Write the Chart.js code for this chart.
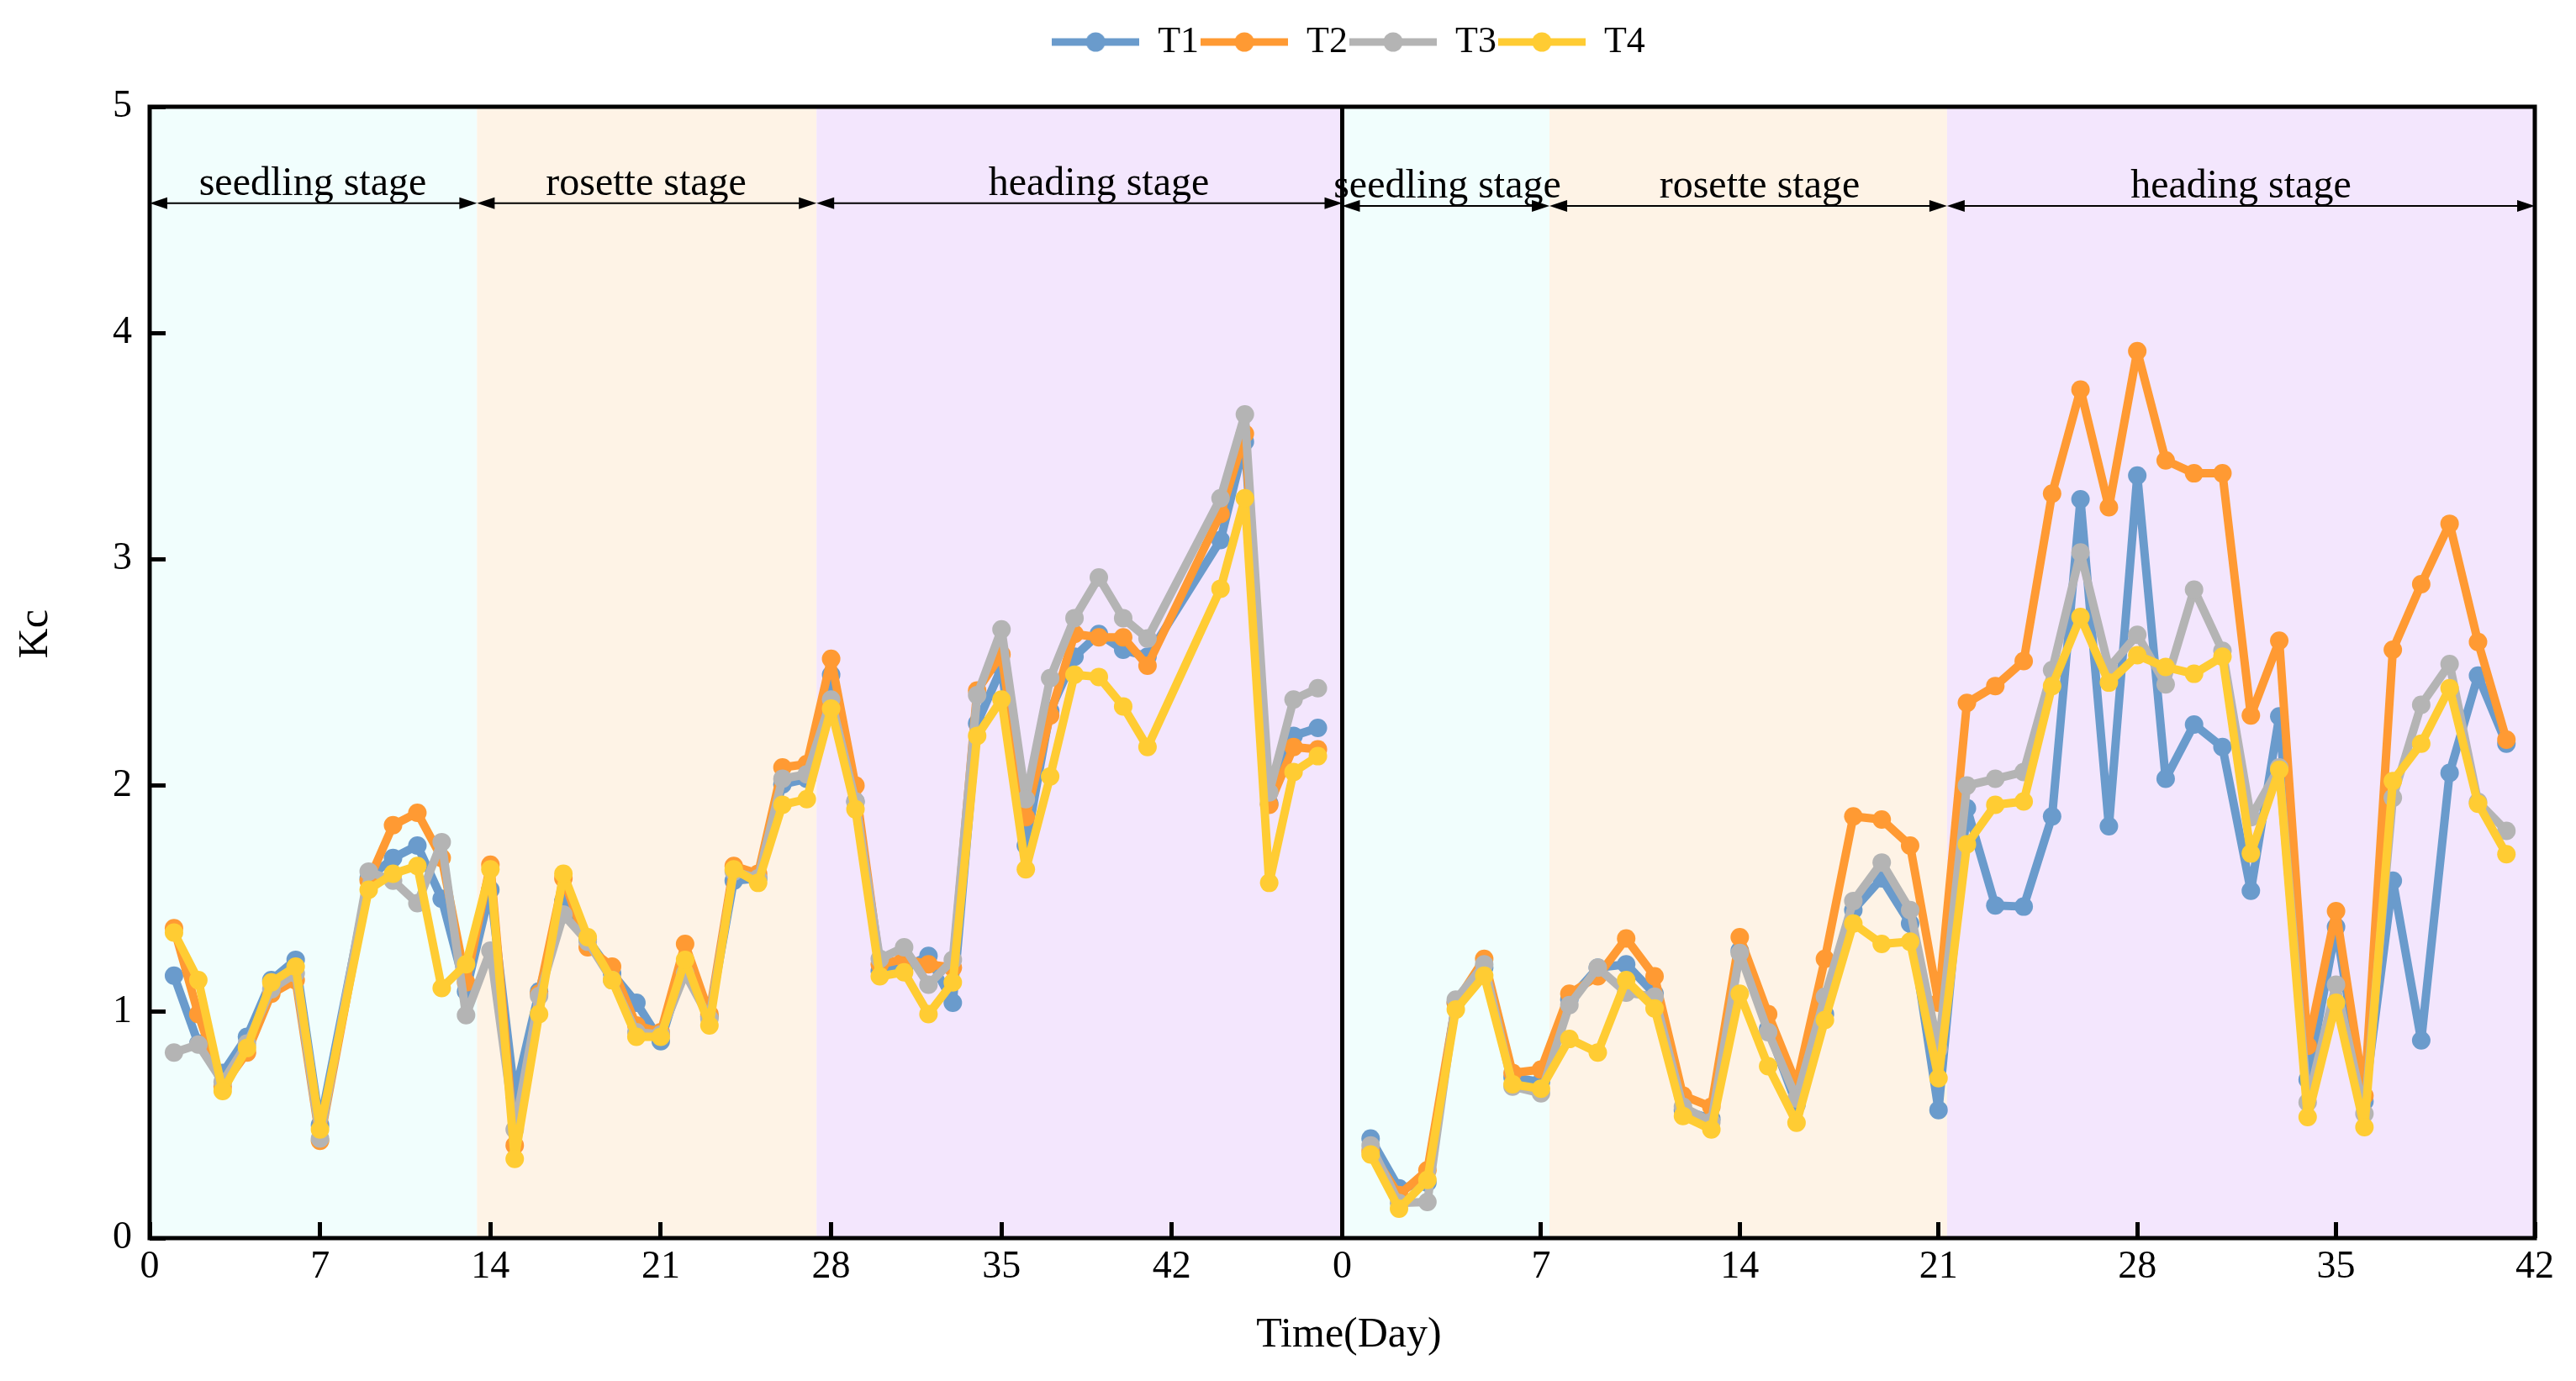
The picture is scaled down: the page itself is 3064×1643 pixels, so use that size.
<!DOCTYPE html>
<html><head><meta charset="utf-8">
<script src="https://cdn.jsdelivr.net/npm/chart.js@4.4.1/dist/chart.umd.min.js"></script>
<style>html,body{margin:0;padding:0;background:#fff;}canvas{display:block;}</style>
</head><body>
<canvas id="c" width="3064" height="1643" style="width:3064px;height:1643px"></canvas>
<script>
// ---------------- DATA ----------------
const seriesNames = ['T1', 'T2', 'T3', 'T4'];

const leftDays = [1,2,3,4,5,6,7,9,10,11,12,13,14,15,16,17,18,19,20,21,22,23,24,25,26,27,28,29,30,31,32,33,34,35,36,37,38,39,40,41,44,45,46,47,48];
const leftT1 = [1.16,0.86,0.73,0.89,1.14,1.23,0.50,1.59,1.68,1.735,1.50,1.09,1.54,0.63,1.09,1.49,1.32,1.17,1.04,0.87,1.22,0.98,1.58,1.59,2.005,2.03,2.49,1.93,1.18,1.195,1.247,1.04,2.275,2.52,1.735,2.33,2.57,2.67,2.60,2.57,3.085,3.52,1.92,2.22,2.255];
const leftT2 = [1.37,0.99,0.67,0.82,1.08,1.14,0.43,1.58,1.825,1.88,1.68,1.13,1.65,0.41,1.08,1.59,1.285,1.20,0.94,0.91,1.30,0.99,1.645,1.61,2.08,2.095,2.56,2.00,1.21,1.234,1.21,1.195,2.42,2.58,1.86,2.31,2.67,2.655,2.655,2.53,3.20,3.555,1.915,2.17,2.16];
const leftT3 = [0.82,0.855,0.69,0.86,1.10,1.17,0.44,1.62,1.58,1.48,1.75,0.985,1.27,0.48,1.07,1.43,1.31,1.14,0.91,0.90,1.17,0.97,1.62,1.59,2.03,2.05,2.38,1.93,1.234,1.285,1.12,1.23,2.40,2.69,1.94,2.475,2.74,2.92,2.74,2.65,3.27,3.64,1.97,2.38,2.43];
const leftT4 = [1.35,1.14,0.65,0.84,1.13,1.20,0.48,1.54,1.61,1.645,1.105,1.21,1.63,0.35,0.99,1.61,1.33,1.14,0.89,0.89,1.23,0.94,1.63,1.57,1.915,1.94,2.34,1.895,1.157,1.175,0.99,1.13,2.22,2.38,1.63,2.04,2.49,2.48,2.35,2.17,2.87,3.27,1.57,2.06,2.13];

const rightDays = [1,2,3,4,5,6,7,8,9,10,11,12,13,14,15,16,17,18,19,20,21,22,23,24,25,26,27,28,29,30,31,32,33,34,35,36,37,38,39,40,41];
const rightT1 = [0.44,0.22,0.245,1.04,1.195,0.71,0.69,1.054,1.195,1.21,1.08,0.565,0.527,1.27,0.925,0.59,0.99,1.45,1.59,1.39,0.566,1.90,1.47,1.465,1.864,3.265,1.82,3.37,2.03,2.27,2.17,1.535,2.306,0.70,1.375,0.604,1.58,0.874,2.056,2.486,2.185];
const rightT2 = [0.386,0.19,0.30,1.04,1.234,0.73,0.745,1.08,1.157,1.324,1.157,0.63,0.58,1.33,0.99,0.68,1.234,1.864,1.85,1.735,1.04,2.365,2.44,2.55,3.29,3.75,3.23,3.92,3.437,3.38,3.38,2.31,2.64,0.85,1.445,0.63,2.60,2.89,3.157,2.635,2.203];
const rightT3 = [0.41,0.155,0.16,1.054,1.21,0.67,0.64,1.03,1.195,1.085,1.067,0.58,0.514,1.26,0.91,0.617,1.067,1.49,1.66,1.45,0.835,2.00,2.03,2.06,2.51,3.03,2.52,2.666,2.447,2.866,2.596,1.86,2.08,0.60,1.12,0.55,1.946,2.357,2.537,1.928,1.80];
const rightT4 = [0.37,0.13,0.257,1.01,1.16,0.68,0.66,0.88,0.82,1.14,1.015,0.54,0.48,1.08,0.76,0.51,0.964,1.39,1.30,1.31,0.707,1.74,1.915,1.93,2.44,2.745,2.455,2.576,2.524,2.494,2.57,1.70,2.07,0.535,1.04,0.49,2.02,2.185,2.43,1.92,1.697];

const yTickValues = [0, 1, 2, 3, 4, 5];
const leftXTickValues = [0, 7, 14, 21, 28, 35, 42];
const rightXTickValues = [0, 7, 14, 21, 28, 35, 42];
const leftXMax = 49;
const rightXMax = 42;

const stageNames = ['seedling stage', 'rosette stage', 'heading stage'];
const leftStageBounds = [0, 13.45, 27.4, 49];
const rightStageBounds = [0, 7.3, 21.3, 42];
const leftStageLabelDays = [6.7, 20.4, 39.0];
const rightStageLabelDays = [3.7, 14.7, 31.65];
const leftArrowKc = 4.574;
const rightArrowKc = 4.562;

const xTitle = 'Time(Day)';
const yTitle = 'Kc';

// ---------------- STYLE ----------------
const COLORS = ['#6A9BCC', '#FF9A33', '#B4B4B4', '#FFCC33'];
const STAGE_COLORS = ['#F1FEFD', '#FEF3E6', '#F3E6FD'];
const FONT = "'Liberation Serif', 'Times New Roman', serif";
const PLOT_LEFT = 178;
const XAXIS_H = 90;
const LEGEND_CX = 1604;
const LEGEND_TOP = 26;

function legendImage(color) {
  const c = document.createElement('canvas');
  c.width = 104; c.height = 26;
  const g = c.getContext('2d');
  g.fillStyle = color;
  g.fillRect(0, 8.5, 104, 9);
  g.beginPath(); g.arc(52, 13, 11.5, 0, Math.PI * 2); g.fill();
  return c;
}
const legendImages = COLORS.map(legendImage);

const leftSeries = [leftT1, leftT2, leftT3, leftT4];
const rightSeries = [rightT1, rightT2, rightT3, rightT4];

function makeDataset(i, days, vals, axis) {
  return {
    label: seriesNames[i],
    data: days.map((d, k) => ({x: d, y: vals[k]})),
    xAxisID: axis, yAxisID: 'y',
    borderColor: COLORS[i], backgroundColor: COLORS[i],
    borderWidth: 10, pointRadius: 11, pointHoverRadius: 11,
    pointBorderWidth: 0, tension: 0, fill: false,
    borderJoinStyle: 'round', borderCapStyle: 'round',
    order: 4 - i
  };
}
const datasets = [];
leftSeries.forEach((v, i) => datasets.push(makeDataset(i, leftDays, v, 'x')));
rightSeries.forEach((v, i) => datasets.push(makeDataset(i, rightDays, v, 'x2')));

function arrowHead(ctx, x, y, dir) {
  ctx.beginPath();
  ctx.moveTo(x, y);
  ctx.lineTo(x - dir * 21, y - 7);
  ctx.lineTo(x - dir * 21, y + 7);
  ctx.closePath();
  ctx.fill();
}

const decor = {
  id: 'decor',
  beforeDraw(chart) {
    const lg = chart.legend;
    if (lg) {
      const w = lg.right - lg.left, h = lg.bottom - lg.top;
      lg.left = LEGEND_CX - w / 2; lg.right = lg.left + w;
      lg.top = LEGEND_TOP; lg.bottom = lg.top + h;
    }
    const {ctx, chartArea: {top, bottom}} = chart;
    ctx.save();
    [['x', leftStageBounds], ['x2', rightStageBounds]].forEach(([id, b]) => {
      const sc = chart.scales[id];
      for (let i = 0; i < 3; i++) {
        const x0 = sc.getPixelForValue(b[i]), x1 = sc.getPixelForValue(b[i + 1]);
        ctx.fillStyle = STAGE_COLORS[i];
        ctx.fillRect(x0, top, x1 - x0, bottom - top);
      }
    });
    ctx.restore();
  },
  afterDraw(chart) {
    const {ctx, chartArea: ca, scales} = chart;
    ctx.save();
    ctx.strokeStyle = '#000';
    ctx.lineWidth = 5;
    ctx.strokeRect(ca.left, ca.top, ca.right - ca.left, ca.bottom - ca.top);
    const divX = scales.x2.left;
    ctx.beginPath(); ctx.moveTo(divX, ca.top); ctx.lineTo(divX, ca.bottom); ctx.stroke();
    ctx.fillStyle = '#000';
    ctx.lineWidth = 2;
    ctx.font = '48px ' + FONT;
    ctx.textAlign = 'center';
    ctx.textBaseline = 'alphabetic';
    [['x', leftStageBounds, leftStageLabelDays, leftArrowKc], ['x2', rightStageBounds, rightStageLabelDays, rightArrowKc]].forEach(([id, b, lbl, kc]) => {
      const sc = scales[id];
      const y = scales.y.getPixelForValue(kc);
      for (let i = 0; i < 3; i++) {
        const x0 = sc.getPixelForValue(b[i]), x1 = sc.getPixelForValue(b[i + 1]);
        ctx.beginPath(); ctx.moveTo(x0 + 10, y); ctx.lineTo(x1 - 10, y); ctx.stroke();
        arrowHead(ctx, x0, y, -1);
        arrowHead(ctx, x1, y, 1);
        ctx.fillText(stageNames[i], sc.getPixelForValue(lbl[i]), y - 10);
      }
    });
    ctx.font = '50px ' + FONT;
    ctx.textBaseline = 'middle';
    ctx.fillText(xTitle, (ca.left + ca.right) / 2 + 8, ca.bottom + 116);
    ctx.save();
    ctx.translate(ca.left - 135, ca.top + 0.466 * (ca.bottom - ca.top));
    ctx.rotate(-Math.PI / 2);
    ctx.fillText(yTitle, 0, 0);
    ctx.restore();
    ctx.restore();
  }
};

const tickFont = {family: FONT, size: 46};
const gridOpts = {drawOnChartArea: false, drawTicks: true, tickLength: -19, color: '#000', lineWidth: 5};

function xScale(ticksArr, max) {
  return {
    type: 'linear', position: 'bottom', stack: 'days', stackWeight: 1,
    min: 0, max: max,
    afterBuildTicks: s => { s.ticks = ticksArr.map(v => ({value: v})); },
    afterFit: s => { s.height = XAXIS_H; },
    ticks: {font: tickFont, color: '#000', padding: 26, maxRotation: 0, autoSkip: false},
    grid: gridOpts,
    border: {display: false}
  };
}

new Chart(document.getElementById('c'), {
  type: 'line',
  data: {datasets},
  options: {
    responsive: false, animation: false, devicePixelRatio: 1, events: [],
    layout: {padding: {top: 71, right: 45, bottom: 1643 - 1473 - XAXIS_H, left: 0}},
    scales: {
      x: xScale(leftXTickValues, leftXMax),
      x2: xScale(rightXTickValues, rightXMax),
      y: {
        type: 'linear', position: 'left', min: 0, max: 5,
        afterBuildTicks: s => { s.ticks = yTickValues.map(v => ({value: v})); },
        afterFit: s => { s.width = PLOT_LEFT; },
        ticks: {font: tickFont, color: '#000', padding: 40},
        grid: gridOpts,
        border: {display: false}
      }
    },
    plugins: {
      legend: {
        display: true, position: 'top',
        labels: {
          usePointStyle: true, pointStyleWidth: 104, padding: 2,
          color: '#000', font: {family: FONT, size: 44},
          filter: item => item.datasetIndex < 4,
          sort: (a, b) => a.datasetIndex - b.datasetIndex,
          generateLabels: chart => Chart.defaults.plugins.legend.labels.generateLabels(chart)
            .map(it => Object.assign(it, {pointStyle: legendImages[it.datasetIndex % 4]}))
        }
      },
      tooltip: {enabled: false}
    }
  },
  plugins: [decor]
});
</script>
</body></html>
